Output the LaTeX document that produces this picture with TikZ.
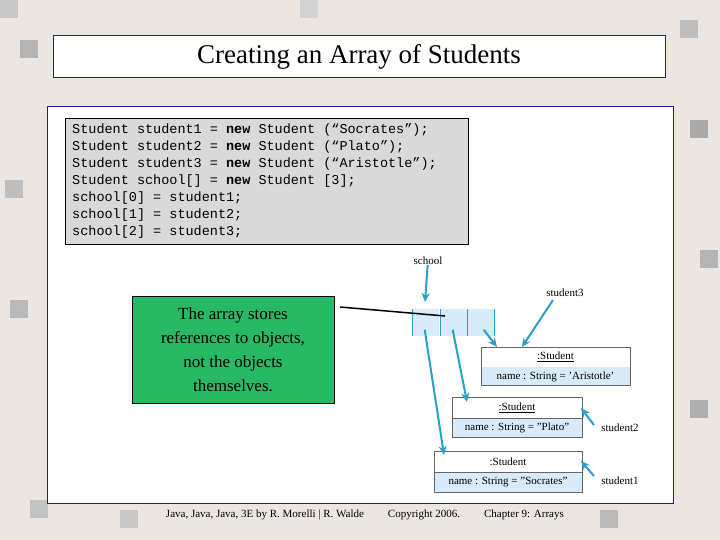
\documentclass[tikz,border=0pt]{standalone}
\usepackage{fontspec}
\setmainfont{Liberation Serif}
\setmonofont{Liberation Mono}
\usetikzlibrary{arrows.meta}
\definecolor{teal1}{RGB}{40,160,200}
\definecolor{cellb}{RGB}{215,235,250}
\definecolor{gbox}{RGB}{40,185,100}
\definecolor{bord}{RGB}{30,30,140}
\tikzset{arr/.style={teal1,line width=2pt,-{Stealth[length=9pt,width=8pt]}},
 lab/.style={font=\fontsize{11}{13}\selectfont,inner sep=0pt},
 code/.style={font=\ttfamily\fontsize{13.5}{17}\selectfont,anchor=north west,align=left,inner sep=0pt},
 foot/.style={font=\fontsize{11}{13}\selectfont,inner sep=0pt},
 uml/.style={font=\fontsize{11}{13}\selectfont,inner sep=0pt}}
\begin{document}
\begin{tikzpicture}[x=1pt,y=-1pt]
\useasboundingbox (0,0) rectangle (720,540);
\fill[color={rgb,255:red,236;green,230;blue,226}] (0,0) rectangle (720,540);
\foreach \x/\y/\c in {0/0/200,20/40/180,680/20/190,690/120/170,10/300/185,690/400/175,30/500/195,600/510/185,300/0/210,120/510/200,700/250/180,5/180/190}
  \fill[color={rgb,255:red,\c;green,\c;blue,\c}] (\x,\y) rectangle ++(18,18);
\node[draw=bord,fill=white,line width=1pt,minimum width=612,minimum height=42,font=\fontsize{27}{30}\selectfont] (title) at (359,57) {\raisebox{-2pt}{Creating an Array of Students}};
\node[draw=bord,fill=white,line width=1pt,minimum width=626,minimum height=396] (panel) at (360,305) {};
\node[draw=black,fill={rgb,255:red,217;green,217;blue,217},line width=1pt,minimum width=403,minimum height=125] (codebox) at (266.5,181.5) {};
\node[code] (codetext) at (72,124) {Student student1 = \textbf{new} Student (“Socrates”);\\
Student student2 = \textbf{new} Student (“Plato”);\\
Student student3 = \textbf{new} Student (“Aristotle”);\\
Student school[] = \textbf{new} Student [3];\\
school[0] = student1;\\
school[1] = student2;\\
school[2] = student3;};
\node[draw=black,fill=gbox,line width=1pt,minimum width=202,minimum height=107,align=center,font=\fontsize{17}{24}\selectfont] (note) at (233,349.5) {The array stores\\references to objects,\\not the objects\\themselves.};
% array
\foreach \i/\x in {1/412,2/440,3/467}
  \node[fill=cellb,minimum width=27,minimum height=27,inner sep=0pt,anchor=north west] (c\i) at (\x,309) {};
\draw[teal1,line width=1pt] (412,309) -- (412,336) (440,309) -- (440,336) (467,309) -- (467,336) (494,309) -- (494,336);
\coordinate (ls) at (340,307);
\coordinate (le) at (445,316);
\draw[black,line width=1.5pt] (ls) -- (le);
\node[lab] (school) at (428,261) {school};
\draw[arr] (school) -- (425,302);
% student objects
\node[draw=black!60,fill=white,minimum width=149,minimum height=38,inner sep=0pt] (o3) at (555.5,366) {};
\fill[cellb] (482,367) rectangle (630,385);
\node[uml] at (555.5,357) {\underline{:Student}};
\node[uml] (o3t) at (555.5,377) {name : String = 'Aristotle'};
\node[draw=black!60,fill=white,minimum width=130,minimum height=40,inner sep=0pt] (o2) at (517,417) {};
\fill[cellb] (453,419) rectangle (582,437);
\draw[black!60] (452,418) -- (582,418);
\node[uml] at (517,408) {\underline{:Student}};
\node[uml] at (517,428) {name : String = "Plato"};
\node[draw=black!60,fill=white,minimum width=148,minimum height=41,inner sep=0pt] (o1) at (508,471.5) {};
\fill[cellb] (435,473) rectangle (582,492);
\draw[black!60] (434,472) -- (582,472);
\node[uml] at (508,462) {:Student};
\node[uml] at (508,482) {name : String = "Socrates"};
\draw[arr] (c3.center) ++(3,7) -- (497,347);
\draw[arr] (c2.center) ++(-1,7) -- (467,402);
\draw[arr] (c1.center) ++(-1,7) -- (444,455);
\node[lab] (s3) at (565,293) {student3};
\draw[arr] (553,300) -- (522,347);
\node[lab] (s2) at (620,428) {student2};
\draw[arr] (594,425) -- (581,408);
\node[lab] (s1) at (620,481) {student1};
\draw[arr] (594,476) -- (581,461);
\node[foot] (f1) at (265,515) {Java, Java, Java, 3E by R. Morelli | R. Walde};
\node[foot] (f2) at (424,515) {Copyright 2006.};
\node[foot] (f3) at (524,515) {Chapter 9: Arrays};
\end{tikzpicture}
\end{document}
